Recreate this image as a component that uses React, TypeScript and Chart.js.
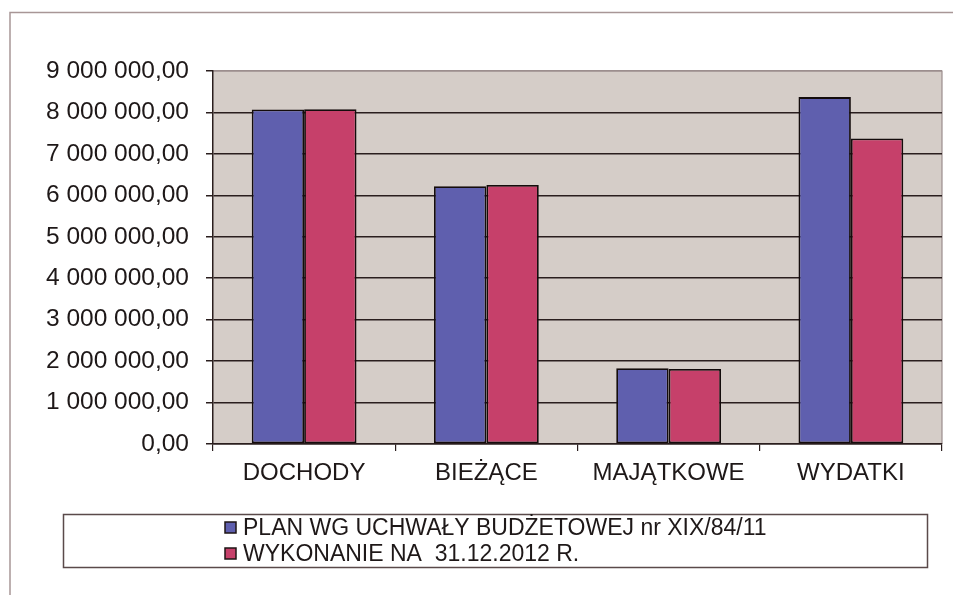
import React, { useEffect, useRef } from 'react';
import { Chart, registerables } from 'chart.js';

Chart.register(...registerables);

const categories = ['DOCHODY', 'BIEŻĄCE', 'MAJĄTKOWE', 'WYDATKI'];
const planValues = [8070000, 6220000, 1830000, 8370000];
const wykonanieValues = [8080000, 6250000, 1810000, 7370000];
const seriesLabels = ['PLAN WG UCHWAŁY BUDŻETOWEJ nr XIX/84/11', 'WYKONANIE NA  31.12.2012 R.'];
const seriesColors = ['#5f5fae', '#c6406a'];
const yMin = 0;
const yMax = 9000000;
const yStep = 1000000;

const FONT = "'Liberation Sans', Arial, sans-serif";
const DARK = '#2a1e1e';

function formatPl(v: number): string {
  const [i, d] = v.toFixed(2).split('.');
  return i.replace(/\B(?=(\d{3})+(?!\d))/g, ' ') + ',' + d;
}

const framePlugin = {
  id: 'frame',
  beforeDraw(chart: any) {
    const { ctx, chartArea, width, height } = chart;
    ctx.save();
    ctx.fillStyle = '#ffffff';
    ctx.fillRect(0, 0, width, height);
    // outer border (left & top visible)
    ctx.strokeStyle = '#a89696';
    ctx.lineWidth = 1.5;
    ctx.beginPath();
    ctx.moveTo(10, height + 5);
    ctx.lineTo(10, 12.5);
    ctx.lineTo(width + 5, 12.5);
    ctx.stroke();
    // plot area background
    ctx.fillStyle = '#d5cdc8';
    ctx.fillRect(chartArea.left, chartArea.top, chartArea.right - chartArea.left, chartArea.bottom - chartArea.top);
    ctx.strokeStyle = '#9c8e8e';
    ctx.lineWidth = 1.2;
    ctx.beginPath();
    ctx.moveTo(chartArea.left, chartArea.top);
    ctx.lineTo(chartArea.right, chartArea.top);
    ctx.lineTo(chartArea.right, chartArea.bottom);
    ctx.stroke();
    ctx.restore();
  },
  afterDraw(chart: any) {
    const { ctx } = chart;
    ctx.save();
    // legend box
    const bx = 63, by = 514, bw = 927 - 63, bh = 567 - 514;
    ctx.fillStyle = '#ffffff';
    ctx.fillRect(bx, by, bw, bh);
    ctx.strokeStyle = '#5a4a4a';
    ctx.lineWidth = 1.5;
    ctx.strokeRect(bx + 0.5, by + 0.5, bw, bh);
    const datasets = chart.data.datasets;
    const rows = [527.5, 553.5];
    ctx.font = `23px ${FONT}`;
    ctx.textBaseline = 'middle';
    ctx.textAlign = 'left';
    datasets.forEach((ds: any, i: number) => {
      const cy = rows[i];
      ctx.fillStyle = ds.backgroundColor;
      ctx.fillRect(225, cy - 5.5, 11, 11);
      ctx.strokeStyle = '#1e1414';
      ctx.lineWidth = 1.5;
      ctx.strokeRect(225, cy - 5.5, 11, 11);
      ctx.fillStyle = '#1e1818';
      ctx.fillText(ds.label, 243, cy + 1);
    });
    ctx.restore();
  },
};

export default function App() {
  const canvasRef = useRef<HTMLCanvasElement | null>(null);

  useEffect(() => {
    const canvas = canvasRef.current;
    if (!canvas) return;
    const chart = new Chart(canvas, {
      type: 'bar',
      data: {
        labels: categories,
        datasets: [
          {
            label: seriesLabels[0],
            data: planValues,
            backgroundColor: seriesColors[0],
            borderColor: '#140c0c',
            borderWidth: 1.8,
            borderSkipped: false,
            categoryPercentage: 0.575,
            barPercentage: 1,
          },
          {
            label: seriesLabels[1],
            data: wykonanieValues,
            backgroundColor: seriesColors[1],
            borderColor: '#140c0c',
            borderWidth: 1.8,
            borderSkipped: false,
            categoryPercentage: 0.575,
            barPercentage: 1,
          },
        ],
      },
      options: {
        responsive: false,
        animation: false,
        devicePixelRatio: 1,
        layout: { padding: { top: 71, right: 11, left: 0, bottom: 0 } },
        plugins: {
          legend: { display: false },
          tooltip: { enabled: false },
          title: { display: false },
        },
        scales: {
          x: {
            grid: {
              display: true,
              drawOnChartArea: false,
              drawTicks: true,
              tickLength: 7,
              color: DARK,
              lineWidth: 1.2,
              offset: true,
            },
            border: { display: true, color: DARK, width: 1.5 },
            ticks: {
              color: '#1e1818',
              font: { family: FONT, size: 24 },
              padding: 8,
              maxRotation: 0,
            },
            afterFit(scale: any) {
              scale.height = 595 - 444;
            },
          },
          y: {
            min: yMin,
            max: yMax,
            grid: {
              color: (ctx: any) => (ctx.tick && ctx.tick.value === yMax ? '#9c8e8e' : DARK),
              tickColor: DARK,
              lineWidth: 1.5,
              drawTicks: true,
              tickLength: 7,
            },
            border: { display: true, color: DARK, width: 1.5 },
            ticks: {
              stepSize: yStep,
              color: '#1e1818',
              font: { family: FONT, size: 24.5 },
              padding: 17,
              callback: (v: any) => formatPl(Number(v)),
            },
            afterFit(scale: any) {
              scale.width = 213;
            },
          },
        },
      },
      plugins: [framePlugin],
    } as any);
    return () => chart.destroy();
  }, []);

  return (
    <div style={{ position: 'fixed', left: 0, top: 0, width: 953, height: 595, background: '#fff' }}>
      <canvas ref={canvasRef} width={953} height={595} style={{ display: 'block', width: 953, height: 595 }} />
    </div>
  );
}
